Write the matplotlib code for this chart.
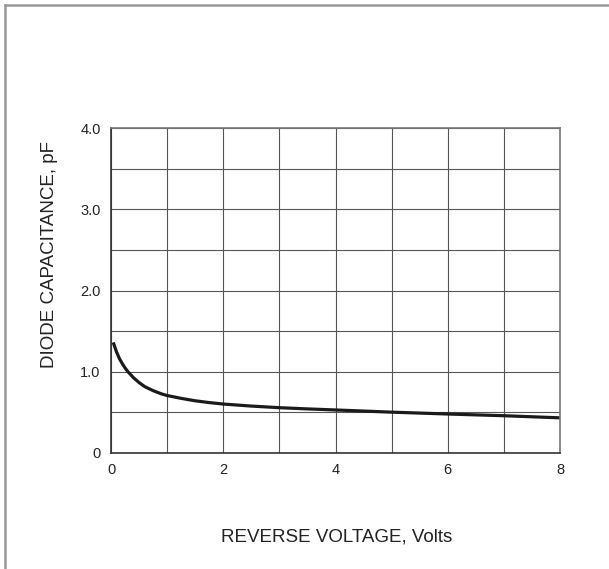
import matplotlib
matplotlib.use("Agg")
import matplotlib.pyplot as plt
from matplotlib.lines import Line2D

plt.rcParams['font.family'] = ['Liberation Sans', 'DejaVu Sans']

# Data
voltage = [0.04, 0.07, 0.1, 0.15, 0.2, 0.25, 0.3, 0.4, 0.5, 0.6, 0.75, 0.9, 1.0, 1.25, 1.5, 1.75,
           2.0, 2.5, 3.0, 3.5, 4.0, 5.0, 6.0, 7.0, 8.0]
capacitance = [1.36, 1.30, 1.24, 1.16, 1.10, 1.045, 1.00, 0.925, 0.865, 0.815, 0.765, 0.725, 0.705,
               0.67, 0.64, 0.618, 0.60, 0.575, 0.555, 0.54, 0.527, 0.50, 0.477, 0.456, 0.43]

x_ticks = [0, 2, 4, 6, 8]
y_ticks = [0, 1.0, 2.0, 3.0, 4.0]
y_tick_labels = ["0", "1.0", "2.0", "3.0", "4.0"]

W, H = 609, 569
fig = plt.figure(figsize=(W / 100, H / 100), dpi=100)
ax = fig.add_axes([111 / W, 1 - 452.7 / H, 449 / W, 324.4 / H])

ax.set_xlim(0, 8)
ax.set_ylim(0, 4)
ax.set_xticks(x_ticks)
ax.set_xticklabels([str(t) for t in x_ticks])
ax.set_yticks(y_ticks)
ax.set_yticklabels(y_tick_labels)
ax.set_xticks(range(0, 9), minor=True)
ax.set_yticks([0.5 * i for i in range(9)], minor=True)
ax.grid(True, which='both', color='#555555', linewidth=0.8)
ax.tick_params(which='both', length=0)
ax.tick_params(axis='x', pad=7.5, labelsize=10.5, colors='#222222')
ax.tick_params(axis='y', pad=7.5, labelsize=10.5, colors='#222222')

for s in ['left', 'bottom']:
    ax.spines[s].set_color('#333333')
    ax.spines[s].set_linewidth(1.2)
for s in ['top', 'right']:
    ax.spines[s].set_color('#777777')
    ax.spines[s].set_linewidth(1.2)

ax.plot(voltage, capacitance, color='#1a1a1a', linewidth=2.3, solid_capstyle='butt',
        solid_joinstyle='round')

fig.text(336.5 / W, 1 - 542 / H, "REVERSE VOLTAGE, Volts", ha='center', va='baseline',
         fontsize=13.5, color='#222222')
fig.text(50 / W, 1 - 254 / H, "DIODE CAPACITANCE, pF", ha='center', va='center',
         rotation=90, fontsize=13.5, color='#222222')

# Gray frame (left and top edges visible)
fig.add_artist(Line2D([4.5 / W, 4.5 / W], [0, 1 - 5 / H], color='#999999', linewidth=1.8,
                      transform=fig.transFigure))
fig.add_artist(Line2D([4.5 / W, 1], [1 - 5 / H, 1 - 5 / H], color='#999999', linewidth=1.8,
                      transform=fig.transFigure))

fig.savefig("out.png", dpi=100)
